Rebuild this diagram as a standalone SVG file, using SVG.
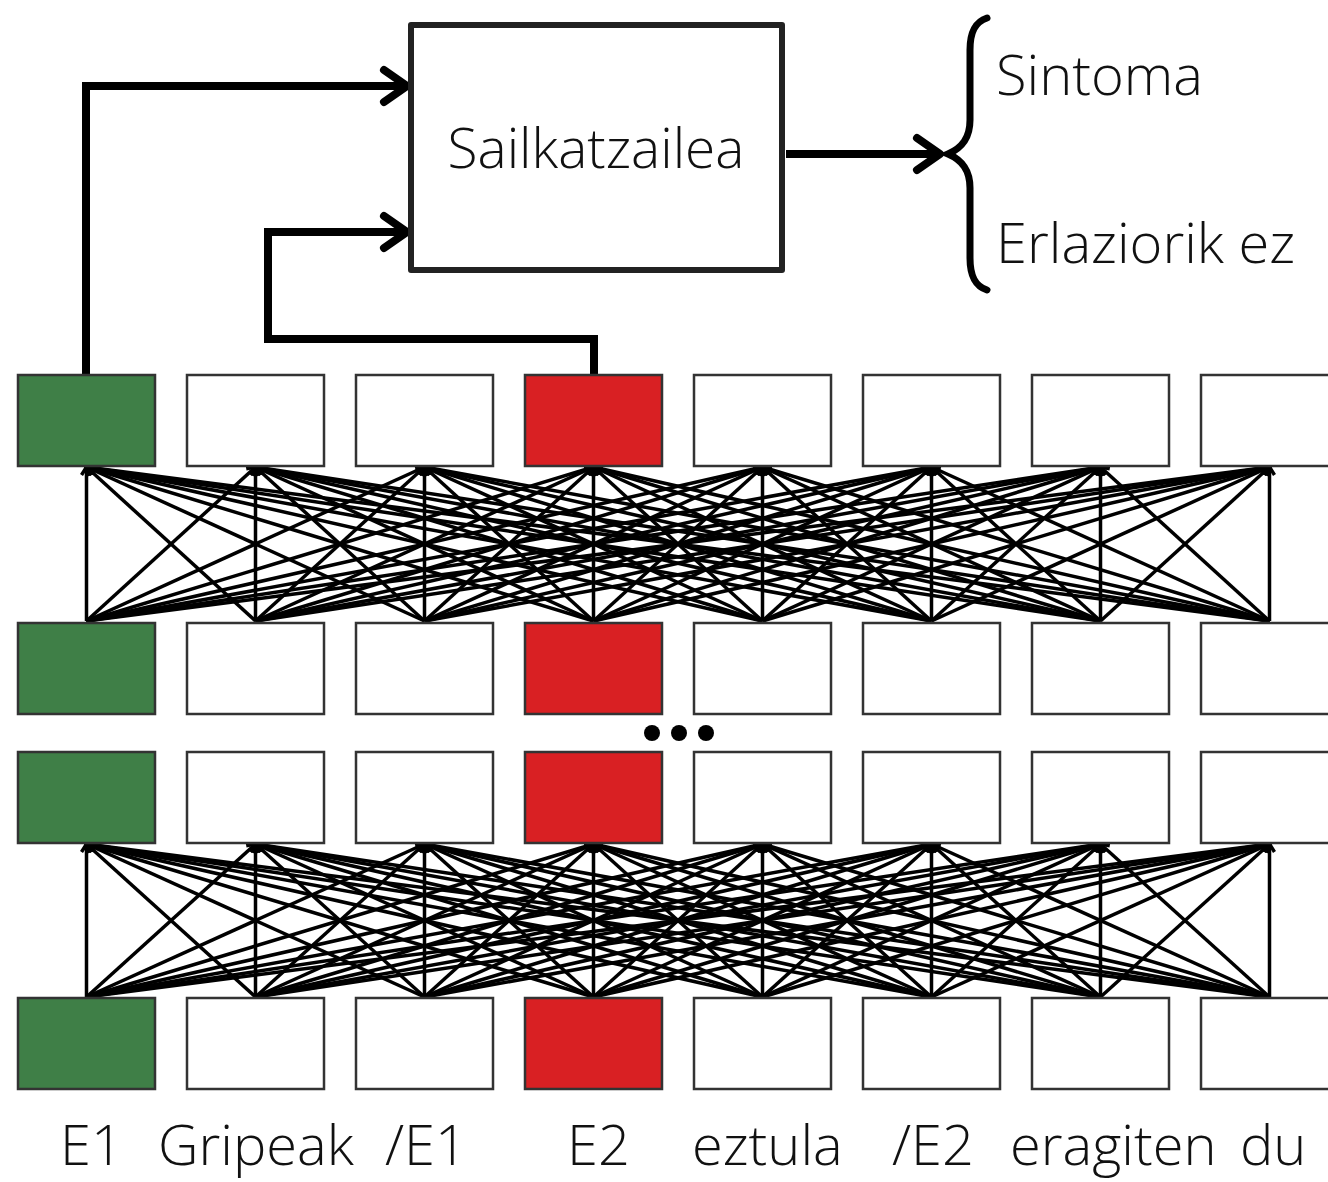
<svg xmlns="http://www.w3.org/2000/svg" width="1328" height="1182" viewBox="0 0 1328 1182">
<defs>
<style>
.box{stroke:#333;stroke-width:2.5;fill:#fff}
.g{fill:#3f7f47}
.r{fill:#d92023}
.lbl{font-family:"Open Sans","Liberation Sans",sans-serif;font-weight:300;font-size:56px;fill:#111}
.fc{stroke:#000;stroke-width:3.5;fill:none;marker-end:url(#sm)}
.big{stroke:#000;stroke-width:8;fill:none;stroke-linejoin:miter}
.head{stroke:#000;stroke-width:8;fill:none;stroke-linecap:round;stroke-linejoin:round}
</style>
<marker id="sm" markerUnits="userSpaceOnUse" viewBox="-12 -8 16 16" markerWidth="16" markerHeight="16" refX="0" refY="0" orient="auto">
<path d="M-8,-5 L0,0 L-8,5" fill="none" stroke="#000" stroke-width="3.5" stroke-linejoin="miter"/>
</marker>
</defs>
<rect width="1328" height="1182" fill="#fff"/>

<g id="connectors">
<g id="fc-upper">
<path class="fc" d="M86.5,621 L86.5,467"/><path class="fc" d="M86.5,621 L255.5,467"/><path class="fc" d="M86.5,621 L424.5,467"/><path class="fc" d="M86.5,621 L593.5,467"/><path class="fc" d="M86.5,621 L762.5,467"/><path class="fc" d="M86.5,621 L931.5,467"/><path class="fc" d="M86.5,621 L1100.5,467"/><path class="fc" d="M86.5,621 L1269.5,467"/>
<path class="fc" d="M255.5,621 L86.5,467"/><path class="fc" d="M255.5,621 L255.5,467"/><path class="fc" d="M255.5,621 L424.5,467"/><path class="fc" d="M255.5,621 L593.5,467"/><path class="fc" d="M255.5,621 L762.5,467"/><path class="fc" d="M255.5,621 L931.5,467"/><path class="fc" d="M255.5,621 L1100.5,467"/><path class="fc" d="M255.5,621 L1269.5,467"/>
<path class="fc" d="M424.5,621 L86.5,467"/><path class="fc" d="M424.5,621 L255.5,467"/><path class="fc" d="M424.5,621 L424.5,467"/><path class="fc" d="M424.5,621 L593.5,467"/><path class="fc" d="M424.5,621 L762.5,467"/><path class="fc" d="M424.5,621 L931.5,467"/><path class="fc" d="M424.5,621 L1100.5,467"/><path class="fc" d="M424.5,621 L1269.5,467"/>
<path class="fc" d="M593.5,621 L86.5,467"/><path class="fc" d="M593.5,621 L255.5,467"/><path class="fc" d="M593.5,621 L424.5,467"/><path class="fc" d="M593.5,621 L593.5,467"/><path class="fc" d="M593.5,621 L762.5,467"/><path class="fc" d="M593.5,621 L931.5,467"/><path class="fc" d="M593.5,621 L1100.5,467"/><path class="fc" d="M593.5,621 L1269.5,467"/>
<path class="fc" d="M762.5,621 L86.5,467"/><path class="fc" d="M762.5,621 L255.5,467"/><path class="fc" d="M762.5,621 L424.5,467"/><path class="fc" d="M762.5,621 L593.5,467"/><path class="fc" d="M762.5,621 L762.5,467"/><path class="fc" d="M762.5,621 L931.5,467"/><path class="fc" d="M762.5,621 L1100.5,467"/><path class="fc" d="M762.5,621 L1269.5,467"/>
<path class="fc" d="M931.5,621 L86.5,467"/><path class="fc" d="M931.5,621 L255.5,467"/><path class="fc" d="M931.5,621 L424.5,467"/><path class="fc" d="M931.5,621 L593.5,467"/><path class="fc" d="M931.5,621 L762.5,467"/><path class="fc" d="M931.5,621 L931.5,467"/><path class="fc" d="M931.5,621 L1100.5,467"/><path class="fc" d="M931.5,621 L1269.5,467"/>
<path class="fc" d="M1100.5,621 L86.5,467"/><path class="fc" d="M1100.5,621 L255.5,467"/><path class="fc" d="M1100.5,621 L424.5,467"/><path class="fc" d="M1100.5,621 L593.5,467"/><path class="fc" d="M1100.5,621 L762.5,467"/><path class="fc" d="M1100.5,621 L931.5,467"/><path class="fc" d="M1100.5,621 L1100.5,467"/><path class="fc" d="M1100.5,621 L1269.5,467"/>
<path class="fc" d="M1269.5,621 L86.5,467"/><path class="fc" d="M1269.5,621 L255.5,467"/><path class="fc" d="M1269.5,621 L424.5,467"/><path class="fc" d="M1269.5,621 L593.5,467"/><path class="fc" d="M1269.5,621 L762.5,467"/><path class="fc" d="M1269.5,621 L931.5,467"/><path class="fc" d="M1269.5,621 L1100.5,467"/><path class="fc" d="M1269.5,621 L1269.5,467"/>
</g>
<g id="fc-lower">
<path class="fc" d="M86.5,997 L86.5,844"/><path class="fc" d="M86.5,997 L255.5,844"/><path class="fc" d="M86.5,997 L424.5,844"/><path class="fc" d="M86.5,997 L593.5,844"/><path class="fc" d="M86.5,997 L762.5,844"/><path class="fc" d="M86.5,997 L931.5,844"/><path class="fc" d="M86.5,997 L1100.5,844"/><path class="fc" d="M86.5,997 L1269.5,844"/>
<path class="fc" d="M255.5,997 L86.5,844"/><path class="fc" d="M255.5,997 L255.5,844"/><path class="fc" d="M255.5,997 L424.5,844"/><path class="fc" d="M255.5,997 L593.5,844"/><path class="fc" d="M255.5,997 L762.5,844"/><path class="fc" d="M255.5,997 L931.5,844"/><path class="fc" d="M255.5,997 L1100.5,844"/><path class="fc" d="M255.5,997 L1269.5,844"/>
<path class="fc" d="M424.5,997 L86.5,844"/><path class="fc" d="M424.5,997 L255.5,844"/><path class="fc" d="M424.5,997 L424.5,844"/><path class="fc" d="M424.5,997 L593.5,844"/><path class="fc" d="M424.5,997 L762.5,844"/><path class="fc" d="M424.5,997 L931.5,844"/><path class="fc" d="M424.5,997 L1100.5,844"/><path class="fc" d="M424.5,997 L1269.5,844"/>
<path class="fc" d="M593.5,997 L86.5,844"/><path class="fc" d="M593.5,997 L255.5,844"/><path class="fc" d="M593.5,997 L424.5,844"/><path class="fc" d="M593.5,997 L593.5,844"/><path class="fc" d="M593.5,997 L762.5,844"/><path class="fc" d="M593.5,997 L931.5,844"/><path class="fc" d="M593.5,997 L1100.5,844"/><path class="fc" d="M593.5,997 L1269.5,844"/>
<path class="fc" d="M762.5,997 L86.5,844"/><path class="fc" d="M762.5,997 L255.5,844"/><path class="fc" d="M762.5,997 L424.5,844"/><path class="fc" d="M762.5,997 L593.5,844"/><path class="fc" d="M762.5,997 L762.5,844"/><path class="fc" d="M762.5,997 L931.5,844"/><path class="fc" d="M762.5,997 L1100.5,844"/><path class="fc" d="M762.5,997 L1269.5,844"/>
<path class="fc" d="M931.5,997 L86.5,844"/><path class="fc" d="M931.5,997 L255.5,844"/><path class="fc" d="M931.5,997 L424.5,844"/><path class="fc" d="M931.5,997 L593.5,844"/><path class="fc" d="M931.5,997 L762.5,844"/><path class="fc" d="M931.5,997 L931.5,844"/><path class="fc" d="M931.5,997 L1100.5,844"/><path class="fc" d="M931.5,997 L1269.5,844"/>
<path class="fc" d="M1100.5,997 L86.5,844"/><path class="fc" d="M1100.5,997 L255.5,844"/><path class="fc" d="M1100.5,997 L424.5,844"/><path class="fc" d="M1100.5,997 L593.5,844"/><path class="fc" d="M1100.5,997 L762.5,844"/><path class="fc" d="M1100.5,997 L931.5,844"/><path class="fc" d="M1100.5,997 L1100.5,844"/><path class="fc" d="M1100.5,997 L1269.5,844"/>
<path class="fc" d="M1269.5,997 L86.5,844"/><path class="fc" d="M1269.5,997 L255.5,844"/><path class="fc" d="M1269.5,997 L424.5,844"/><path class="fc" d="M1269.5,997 L593.5,844"/><path class="fc" d="M1269.5,997 L762.5,844"/><path class="fc" d="M1269.5,997 L931.5,844"/><path class="fc" d="M1269.5,997 L1100.5,844"/><path class="fc" d="M1269.5,997 L1269.5,844"/>
</g>
<g id="to-classifier">
<path class="big" d="M86,375 V86 H404"/>
<path class="head" d="M384,70 L407,86 L384,102"/>
<path class="big" d="M594,375 V339 H268 V232 H404"/>
<path class="head" d="M384,216 L407,232 L384,248"/>
<path class="big" d="M786,154 H936"/>
<path class="head" d="M917,138 L940,154 L917,170"/>
</g>
</g>

<g id="classifier">
<rect x="411" y="25" width="371" height="245" fill="#fff" stroke="#222" stroke-width="6" stroke-linejoin="round"/>
<text class="lbl" x="596" y="168" style="font-size:55px" text-anchor="middle">Sailkatzailea</text>
</g>

<g id="output">
<path d="M987,18 C975,22 970,32 970,50 V120 C970,138 962,148 948,154 C962,160 970,170 970,188 V258 C970,276 975,286 987,290" fill="none" stroke="#000" stroke-width="7" stroke-linecap="round"/>
<text class="lbl" x="996" y="95">Sintoma</text>
<text class="lbl" x="996" y="263">Erlaziorik ez</text>
</g>

<g id="row1">
<rect class="box g" x="18" y="375" width="137" height="91"/>
<rect class="box" x="187" y="375" width="137" height="91"/>
<rect class="box" x="356" y="375" width="137" height="91"/>
<rect class="box r" x="525" y="375" width="137" height="91"/>
<rect class="box" x="694" y="375" width="137" height="91"/>
<rect class="box" x="863" y="375" width="137" height="91"/>
<rect class="box" x="1032" y="375" width="137" height="91"/>
<rect class="box" x="1201" y="375" width="137" height="91"/>
</g>
<g id="row2">
<rect class="box g" x="18" y="623" width="137" height="91"/>
<rect class="box" x="187" y="623" width="137" height="91"/>
<rect class="box" x="356" y="623" width="137" height="91"/>
<rect class="box r" x="525" y="623" width="137" height="91"/>
<rect class="box" x="694" y="623" width="137" height="91"/>
<rect class="box" x="863" y="623" width="137" height="91"/>
<rect class="box" x="1032" y="623" width="137" height="91"/>
<rect class="box" x="1201" y="623" width="137" height="91"/>
</g>
<g id="ellipsis">
<circle cx="652" cy="733" r="8"/>
<circle cx="679" cy="733" r="8"/>
<circle cx="706" cy="733" r="8"/>
</g>
<g id="row3">
<rect class="box g" x="18" y="752" width="137" height="91"/>
<rect class="box" x="187" y="752" width="137" height="91"/>
<rect class="box" x="356" y="752" width="137" height="91"/>
<rect class="box r" x="525" y="752" width="137" height="91"/>
<rect class="box" x="694" y="752" width="137" height="91"/>
<rect class="box" x="863" y="752" width="137" height="91"/>
<rect class="box" x="1032" y="752" width="137" height="91"/>
<rect class="box" x="1201" y="752" width="137" height="91"/>
</g>
<g id="row4">
<rect class="box g" x="18" y="998" width="137" height="91"/>
<rect class="box" x="187" y="998" width="137" height="91"/>
<rect class="box" x="356" y="998" width="137" height="91"/>
<rect class="box r" x="525" y="998" width="137" height="91"/>
<rect class="box" x="694" y="998" width="137" height="91"/>
<rect class="box" x="863" y="998" width="137" height="91"/>
<rect class="box" x="1032" y="998" width="137" height="91"/>
<rect class="box" x="1201" y="998" width="137" height="91"/>
</g>
<g id="tokens">
<text class="lbl" x="60" y="1165">E1</text>
<text class="lbl" x="158" y="1165">Gripeak</text>
<text class="lbl" x="385" y="1165">/E1</text>
<text class="lbl" x="567" y="1165">E2</text>
<text class="lbl" x="692" y="1165">eztula</text>
<text class="lbl" x="892" y="1165">/E2</text>
<text class="lbl" x="1010" y="1165">eragiten</text>
<text class="lbl" x="1240" y="1165">du</text>
</g>
</svg>
